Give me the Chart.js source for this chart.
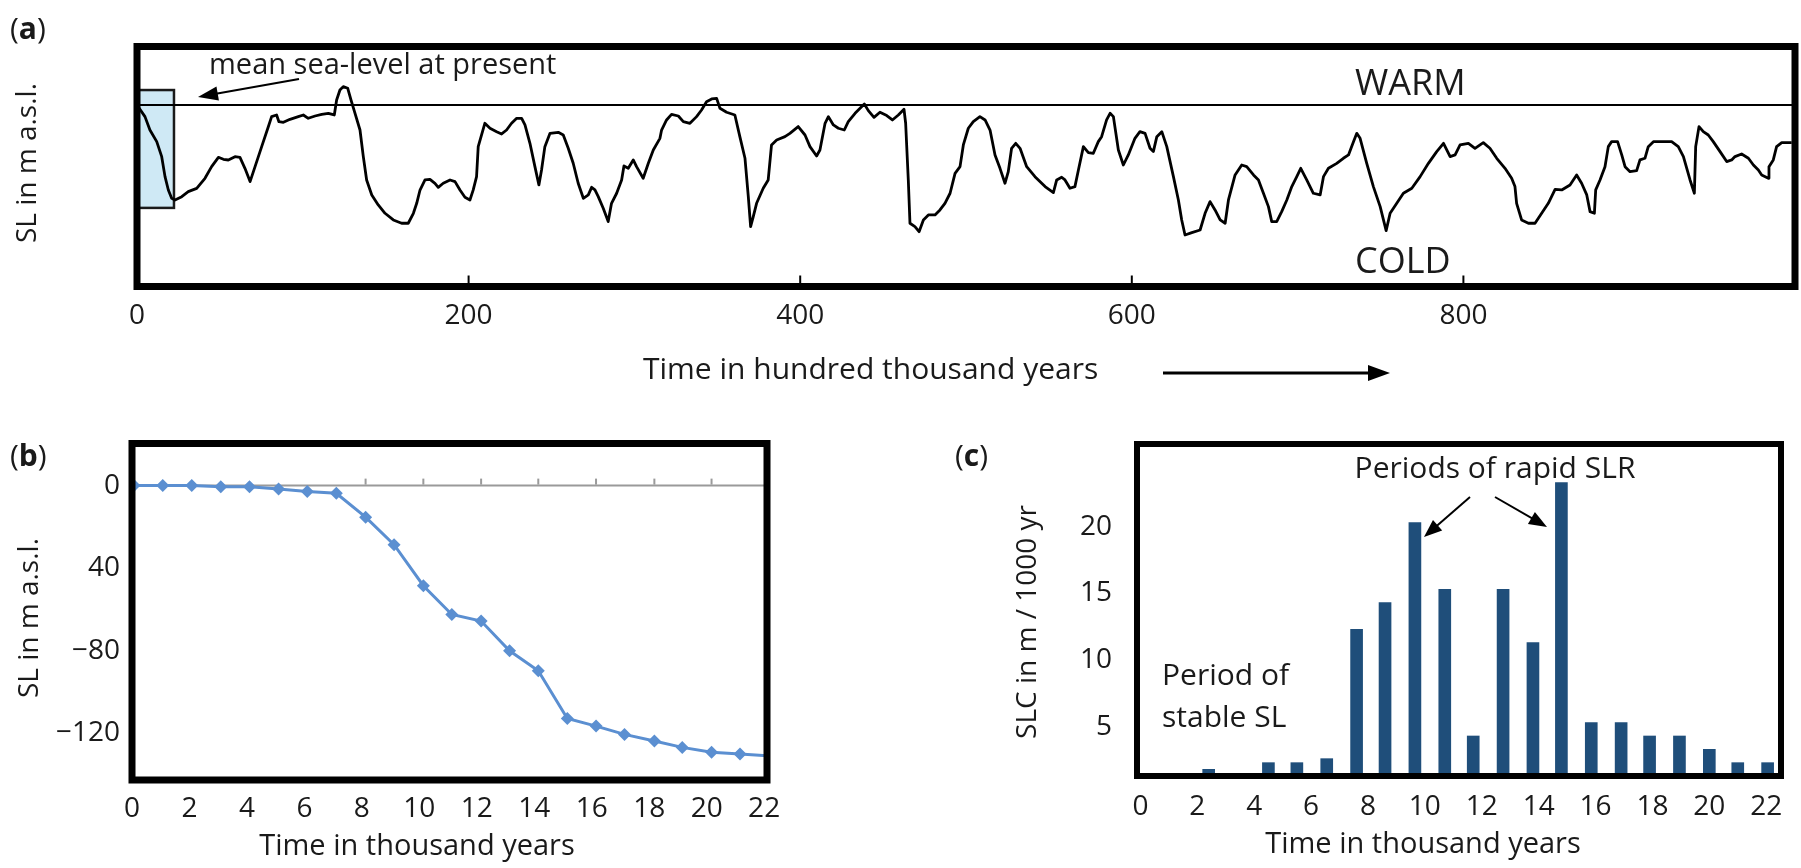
<!DOCTYPE html>
<html>
<head>
<meta charset="utf-8">
<title>Sea-level change</title>
<script src="https://cdn.jsdelivr.net/npm/chart.js@4.4.1/dist/chart.umd.min.js"></script>
<style>
  html, body { margin: 0; padding: 0; background: #fff; }
  body { width: 1801px; height: 868px; position: relative; overflow: hidden; }
  canvas { position: absolute; }
  #chartA { left: 0; top: 0; }
  #chartB { left: 0; top: 420px; }
  #chartC { left: 900px; top: 420px; }
</style>
</head>
<body>
<canvas id="chartA" width="1801" height="420"></canvas>
<canvas id="chartB" width="900" height="448"></canvas>
<canvas id="chartC" width="901" height="448"></canvas>
<script>
// (a) sea level over the last ~1000 kyr (m relative to present)
const paleoTime = [
  0, 4.8, 7.8, 11.9, 14.9, 16.9, 18.9, 20.9, 22.9, 27.0, 30.9, 36.0, 41.0, 45.0, 49.1, 52.1, 55.1, 59.1, 62.1, 65.1,
  68.2, 71.2, 75.2, 79.2, 81.2, 84.2, 85.6, 88.3, 92.3, 97.3, 100.3, 103.3, 107.4, 111.4, 115.4, 119.0, 120.4, 122.4,
  124.4, 127.1, 129.1, 131.5, 134.5, 136.5, 138.5, 141.6, 145.5, 149.6, 154.6, 159.6, 163.6, 166.7, 168.7, 170.7,
  173.7, 176.7, 179.7, 181.7, 184.7, 188.8, 191.8, 194.8, 197.8,
  200.8, 202.8, 204.8, 205.8, 209.8, 212.9, 216.9, 219.9, 222.9, 225.9, 229.0, 232.0, 234.0, 237.0, 240.0, 242.4,
  244.0, 246.0, 249.1, 254.1, 257.1, 260.1, 263.1, 266.1, 269.2, 272.2, 274.2, 276.2, 278.2, 281.2, 284.2, 286.2,
  289.3, 292.3, 293.7, 296.3, 299.3, 301.3, 305.3, 308.4, 311.4, 315.4, 316.4, 319.4, 322.4, 326.5, 329.5, 333.5,
  337.5, 340.5, 343.5, 346.6, 349.6, 351.6, 355.6, 360.6, 363.6, 366.7, 368.7, 370.1, 371.7, 373.7, 377.7, 380.7,
  382.7, 385.8, 390.8, 393.8, 398.8,
  402.9, 405.9, 409.9, 411.9, 415.0, 417.0, 420.0, 423.0, 426.6, 429.0, 433.1, 436.1, 438.7, 441.1, 444.5, 448.1,
  452.2, 455.6, 459.2, 462.6, 463.6, 465.2, 466.2, 469.2, 471.7, 474.3, 477.3, 481.3, 484.3, 487.3, 490.4, 493.4,
  496.4, 498.4, 501.4, 504.4, 508.4, 511.5, 514.5, 517.5, 520.5, 523.5, 525.5, 527.5, 530.0, 532.6, 536.6, 541.6,
  547.7, 552.7, 554.7, 557.7, 559.7, 562.7, 565.7, 567.8, 570.8, 573.8, 576.8, 579.8, 581.8, 584.8, 586.9, 588.9,
  591.9, 594.9, 597.9, 601.9, 604.9,
  608.0, 611.0, 613.0, 615.1, 618.1, 621.1, 625.1, 628.1, 630.1, 632.1, 636.2, 641.2, 644.2, 647.2, 650.2, 653.3,
  656.3, 658.3, 662.3, 666.3, 669.3, 673.4, 676.4, 679.4, 682.4, 684.4, 687.4, 690.4, 693.5, 696.5, 699.5, 701.9,
  705.5, 709.5, 713.6, 715.6, 718.6, 723.6, 727.6, 730.7, 733.7, 735.7, 737.7, 741.7, 745.7, 749.8, 753.4, 755.8,
  759.8, 763.8, 768.9, 773.9, 778.9, 783.9, 788.0, 792.0, 795.0, 798.0, 803.0,
  807.0, 812.0, 816.0, 820.1, 825.1, 829.1, 831.1, 832.1, 835.1, 839.2, 843.2, 847.2, 851.2, 855.3, 859.3, 864.3,
  868.3, 871.3, 874.4, 876.4, 879.0, 879.8, 882.4, 885.4, 887.4, 889.4, 893.0, 895.5, 897.5, 900.5, 904.5, 906.5,
  909.5, 911.5, 914.6, 925.6, 929.6, 932.7, 936.7, 939.3, 940.1, 942.1, 944.7, 947.7, 950.7, 954.8, 958.8, 961.8,
  963.8, 967.8, 971.9, 974.9, 977.9, 979.9, 983.9, 984.3, 986.9, 988.9, 992.0, 998.0
];
const paleoLevel = [
  0, -14.7, -31.6, -46.3, -65.3, -90.5, -107.4, -117.9, -120, -115.8, -109.5, -105.3, -92.6, -77.9, -66.1, -68.6,
  -69.5, -65.3, -66.1, -80.0, -96.8, -77.9, -52.6, -27.4, -14.7, -12.6, -21.1, -21.9, -18.1, -14.7, -12.6, -16.8,
  -13.9, -11.8, -10.5, -12.6, 6.3, 18.9, 23.2, 21.1, 6.3, -10.5, -31.6, -65.3, -94.7, -113.7, -126.3, -136.8,
  -145.2, -149.4, -149.4, -136.8, -124.2, -107.4, -94.7, -93.9, -98.9, -104.0, -98.9, -94.7, -96.8, -107.4, -116.6,
  -120.0, -107.3, -90.5, -52.6, -23.1, -29.4, -33.7, -36.6, -31.6, -23.1, -16.8, -16.8, -25.2, -48.4, -77.9, -101.0,
  -82.1, -52.6, -35.8, -34.5, -37.9, -54.7, -73.6, -98.9, -117.9, -113.6, -104.0, -107.3, -115.8, -130.5, -147.3,
  -124.2, -111.5, -94.7, -77.0, -80.0, -69.4, -77.9, -92.6, -73.6, -56.8, -42.1, -31.6, -18.9, -11.8, -13.9, -21.0,
  -23.1, -14.7, -6.3, 4.2, 7.6, 8.4, -4.2, -9.2, -12.6, -40.0, -67.3, -115.8, -153.6, -141.0, -124.2, -105.2, -94.7,
  -50.5, -44.2, -40.0, -35.8, -27.3,
  -37.9, -52.6, -64.4, -56.8, -23.1, -14.7, -25.2, -29.4, -31.6, -21.0, -10.5, -4.2, 1.3, -7.1, -15.6, -9.2, -13.4,
  -18.9, -12.6, -5.4, -23.1, -94.7, -149.4, -153.6, -160.0, -145.2, -138.9, -138.9, -132.6, -124.2, -111.5, -86.3,
  -77.9, -50.5, -29.4, -21.0, -14.7, -18.9, -31.6, -63.1, -80.0, -98.9, -84.2, -54.7, -48.4, -54.7, -77.9, -90.5,
  -103.1, -110.7, -94.7, -91.3, -94.7, -105.2, -103.1, -82.1, -52.6, -60.2, -61.0, -46.3, -40.0, -18.9, -10.5,
  -14.7, -56.8, -75.8, -63.1, -42.1, -33.7,
  -35.8, -54.7, -58.9, -40.0, -33.7, -52.6, -90.5, -120.0, -145.2, -164.2, -161.2, -157.9, -136.8, -122.1, -132.6,
  -145.2, -149.4, -120.0, -88.4, -75.8, -77.9, -88.4, -94.7, -111.5, -128.4, -147.3, -147.3, -134.7, -120.0, -103.1,
  -90.5, -80.0, -94.7, -111.5, -113.6, -90.5, -80.0, -73.7, -67.3, -63.1, -46.3, -35.8, -42.1, -73.7, -103.1,
  -128.4, -158.7, -136.8, -124.2, -111.5, -105.2, -90.5, -73.7, -58.9, -48.4, -65.2, -63.1, -50.5, -48.4,
  -54.7, -47.5, -54.7, -67.3, -80.0, -92.6, -103.1, -124.2, -145.2, -149.4, -149.4, -136.8, -124.2, -106.5, -107.3,
  -101.0, -88.4, -98.9, -113.6, -134.7, -136.8, -107.3, -94.7, -77.9, -52.6, -46.3, -46.3, -63.1, -77.9, -84.2,
  -82.9, -69.4, -67.3, -52.6, -46.3, -46.3, -52.6, -65.2, -94.7, -111.5, -52.6, -27.3, -33.7, -37.9, -46.3, -58.9,
  -71.5, -69.4, -65.2, -61.9, -67.3, -75.8, -82.1, -88.4, -92.6, -77.9, -69.4, -52.6, -47.5, -47.5
];
// highlighted last 22 kyr (blue box in panel a)
const recentWindow = { from: 0, to: 22.3, top: 18.9, bottom: -130 };

// (b) sea level over the last 22 kyr
const holoTime = [0.07, 1.07, 2.08, 3.09, 4.09, 5.1, 6.1, 7.11, 8.13, 9.12, 10.14, 11.13, 12.15, 13.14, 14.14,
  15.15, 16.15, 17.14, 18.18, 19.15, 20.17, 21.16, 22.18];
const holoLevel = [0, 0, 0, -0.5, -0.5, -1.6, -2.9, -3.7, -15.3, -28.6, -48.5, -62.4, -65.6, -80, -89.7,
  -112.8, -116.5, -120.5, -123.7, -126.8, -129.2, -130, -130.9];
const levelTickValues = [0, -40, -80, -120];
const levelTickLabels = ['0', '40', '\u221280', '\u2212120'];

// (c) rate of sea-level change per 1000 years
const rateTime = [0.35, 1.4, 2.4, 3.45, 4.5, 5.5, 6.55, 7.6, 8.6, 9.65, 10.7, 11.7, 12.75, 13.8, 14.8, 15.85,
  16.9, 17.9, 18.95, 20.0, 21.0, 22.05];
const rateValue = [0, 0, 1.5, 0, 2, 2, 2.3, 12, 14, 20, 15, 4, 15, 11, 23, 5, 5, 4, 4, 3, 2, 2];
const rateTicks = [5, 10, 15, 20];

const FONT = "'Open Sans', 'DejaVu Sans', sans-serif";
const INK = '#1a1a1a';
const LINE_BLUE = '#5b8fd1';
const BAR_BLUE = '#1f4e7a';

function font(size, weight) {
  return (weight || 'normal') + ' ' + size + 'px ' + FONT;
}

function text(ctx, str, x, y, size, opts) {
  opts = opts || {};
  ctx.save();
  ctx.font = font(size, opts.weight);
  ctx.fillStyle = INK;
  ctx.textAlign = opts.align || 'left';
  ctx.textBaseline = opts.baseline || 'alphabetic';
  if (opts.rotate) {
    ctx.translate(x, y);
    ctx.rotate(opts.rotate);
    ctx.fillText(str, 0, 0);
  } else {
    ctx.fillText(str, x, y);
  }
  ctx.restore();
}

function panelLabel(ctx, letter, x, y) {
  ctx.save();
  ctx.fillStyle = INK;
  ctx.textBaseline = 'middle';
  ctx.font = font(30);
  ctx.fillText('(', x, y);
  let w = ctx.measureText('(').width;
  ctx.font = font(30, 'bold');
  ctx.fillText(letter, x + w, y);
  w += ctx.measureText(letter).width;
  ctx.font = font(30);
  ctx.fillText(')', x + w, y);
  ctx.restore();
}

function arrow(ctx, x1, y1, x2, y2, width, head, half) {
  const a = Math.atan2(y2 - y1, x2 - x1);
  const c = Math.cos(a), s = Math.sin(a);
  ctx.save();
  ctx.strokeStyle = '#000';
  ctx.fillStyle = '#000';
  ctx.lineWidth = width;
  ctx.beginPath();
  ctx.moveTo(x1, y1);
  ctx.lineTo(x2 - head * 0.7 * c, y2 - head * 0.7 * s);
  ctx.stroke();
  ctx.beginPath();
  ctx.moveTo(x2, y2);
  ctx.lineTo(x2 - head * c + half * s, y2 - head * s - half * c);
  ctx.lineTo(x2 - head * c - half * s, y2 - head * s + half * c);
  ctx.closePath();
  ctx.fill();
  ctx.restore();
}

// thick black frame round the plot area
const framePlugin = {
  id: 'frame',
  afterDraw(chart, args, opts) {
    const { ctx, chartArea: a } = chart;
    ctx.save();
    ctx.lineWidth = opts.width || 7;
    ctx.strokeStyle = '#000';
    ctx.strokeRect(a.left, a.top, a.right - a.left, a.bottom - a.top);
    ctx.restore();
  }
};

// grid hidden, but tickLength still spaces the labels from the frame
function hiddenGrid(gap) {
  return { display: false, drawTicks: true, tickLength: gap || 0, offset: false };
}

// Panel (a)
const annotA = {
  id: 'annotA',
  beforeDatasetsDraw(chart) {
    const { ctx, scales: { x, y } } = chart;
    const l = x.getPixelForValue(recentWindow.from), r = x.getPixelForValue(recentWindow.to);
    const t = y.getPixelForValue(recentWindow.top), b = y.getPixelForValue(recentWindow.bottom);
    ctx.save();
    ctx.fillStyle = '#cfe9f5';
    ctx.fillRect(l, t, r - l, b - t);
    ctx.lineWidth = 2.5;
    ctx.strokeStyle = '#1a1a1a';
    ctx.strokeRect(l, t, r - l, b - t);
    ctx.restore();
  },
  afterDraw(chart) {
    const { ctx, chartArea: a, scales: { x } } = chart;
    ctx.save();
    ctx.strokeStyle = '#000';
    ctx.lineWidth = 2;
    x.ticks.forEach(tk => {
      if (tk.value <= 0 || tk.value >= 1000) return;
      const px = x.getPixelForValue(tk.value);
      ctx.beginPath();
      ctx.moveTo(px, a.bottom - 2);
      ctx.lineTo(px, a.bottom - 11);
      ctx.stroke();
    });
    ctx.restore();

    panelLabel(ctx, 'a', 10, 30);
    text(ctx, 'mean sea-level at present', 209, 74, 29);
    arrow(ctx, 299, 79, 198, 97, 2, 20, 7);
    text(ctx, 'WARM', 1355, 95, 36);
    text(ctx, 'COLD', 1355, 273, 36);
    text(ctx, 'SL in m a.s.l.', 28, 163, 28, { align: 'center', baseline: 'middle', rotate: -Math.PI / 2 });
    text(ctx, 'Time in hundred thousand years', 643, 370, 30, { baseline: 'middle' });
    arrow(ctx, 1163, 373, 1390, 373, 3, 22, 8);
  }
};

new Chart(document.getElementById('chartA'), {
  type: 'line',
  data: {
    datasets: [
      {
        data: paleoTime.map((t, i) => ({ x: t, y: paleoLevel[i] })),
        borderColor: '#000',
        borderWidth: 2.8,
        pointRadius: 0,
        tension: 0,
        borderJoinStyle: 'round'
      },
      {
        data: [{ x: 0, y: 0 }, { x: 1000, y: 0 }],
        borderColor: '#000',
        borderWidth: 2,
        pointRadius: 0
      }
    ]
  },
  options: {
    responsive: false,
    animation: false,
    layout: { padding: { top: 46.5, right: 6, left: 0, bottom: 0 } },
    plugins: { legend: { display: false }, tooltip: { enabled: false }, frame: { width: 7 } },
    scales: {
      x: {
        type: 'linear', min: 0, max: 1000,
        afterFit: s => { s.height = 133.5; },
        grid: hiddenGrid(13), border: { display: false },
        ticks: {
          stepSize: 200, padding: 0, maxRotation: 0, color: INK,
          font: { family: FONT, size: 28 },
          callback: v => (v < 1000 ? String(v) : '')
        }
      },
      y: {
        min: -229.3, max: 73.9,
        afterFit: s => { s.width = 137; },
        grid: hiddenGrid(), border: { display: false },
        ticks: { display: false, padding: 0 }
      }
    }
  },
  plugins: [annotA, framePlugin]
});

// Panel (b)
const annotB = {
  id: 'annotB',
  afterDraw(chart) {
    const { ctx, scales: { x, y } } = chart;
    const y0 = y.getPixelForValue(0);
    ctx.save();
    ctx.strokeStyle = '#9a9a9a';
    ctx.lineWidth = 2;
    holoTime.forEach((t, i) => {
      if (i % 2 !== 0 || i < 8 || i > 20) return;
      const px = x.getPixelForValue(t);
      ctx.beginPath();
      ctx.moveTo(px, y0 - 1);
      ctx.lineTo(px, y0 - 7);
      ctx.stroke();
    });
    ctx.restore();
    panelLabel(ctx, 'b', 10, 37);
    text(ctx, 'SL in m a.s.l.', 30, 198, 28, { align: 'center', baseline: 'middle', rotate: -Math.PI / 2 });
    text(ctx, 'Time in thousand years', 417, 427, 29, { align: 'center', baseline: 'middle' });
  }
};

new Chart(document.getElementById('chartB'), {
  type: 'line',
  data: {
    datasets: [
      {
        data: holoTime.map((t, i) => ({ x: t, y: holoLevel[i] })),
        borderColor: LINE_BLUE,
        backgroundColor: LINE_BLUE,
        borderWidth: 3,
        pointStyle: 'rectRot',
        pointRadius: 6.5,
        pointBorderWidth: 0,
        tension: 0
      },
      {
        data: [{ x: 0, y: 0 }, { x: 22.1, y: 0 }],
        borderColor: '#9a9a9a',
        borderWidth: 2,
        pointRadius: 0
      }
    ]
  },
  options: {
    responsive: false,
    animation: false,
    layout: { padding: { top: 23.5, right: 133, left: 0, bottom: 0 } },
    plugins: { legend: { display: false }, tooltip: { enabled: false }, frame: { width: 7 } },
    scales: {
      x: {
        type: 'linear', min: 0, max: 22.1,
        afterFit: s => { s.height = 88; },
        grid: hiddenGrid(12), border: { display: false },
        ticks: {
          stepSize: 2, includeBounds: false, padding: 0, maxRotation: 0, color: INK,
          font: { family: FONT, size: 28 }
        }
      },
      y: {
        min: -142.6, max: 20.4,
        afterFit: s => { s.width = 132; },
        grid: hiddenGrid(12), border: { display: false },
        ticks: {
          stepSize: 40, includeBounds: false, padding: 0, color: INK,
          font: { family: FONT, size: 28 },
          callback: v => {
            const k = levelTickValues.indexOf(v);
            return k >= 0 ? levelTickLabels[k] : '';
          }
        }
      }
    }
  },
  plugins: [annotB, framePlugin]
});

// Panel (c)
const annotC = {
  id: 'annotC',
  afterDraw(chart) {
    const { ctx } = chart;
    panelLabel(ctx, 'c', 55, 37);
    text(ctx, 'SLC in m / 1000 yr', 128, 202, 28, { align: 'center', baseline: 'middle', rotate: -Math.PI / 2 });
    text(ctx, 'Time in thousand years', 523, 425, 29, { align: 'center', baseline: 'middle' });
    text(ctx, 'Periods of rapid SLR', 595, 58, 30, { align: 'center' });
    arrow(ctx, 570, 77, 524, 117, 2, 18, 7);
    arrow(ctx, 595, 77, 647, 107, 2, 18, 7);
    text(ctx, 'Period of', 262, 265, 30);
    text(ctx, 'stable SL', 262, 307, 30);
  }
};

new Chart(document.getElementById('chartC'), {
  type: 'bar',
  data: {
    datasets: [{
      data: rateTime.map((t, i) => ({ x: t, y: rateValue[i] })),
      backgroundColor: BAR_BLUE,
      barThickness: 12,
      clip: 0
    }]
  },
  options: {
    responsive: false,
    animation: false,
    layout: { padding: { top: 24, right: 20, left: 0, bottom: 0 } },
    plugins: { legend: { display: false }, tooltip: { enabled: false }, frame: { width: 6 } },
    scales: {
      x: {
        type: 'linear', min: -0.12, max: 22.52, offset: false,
        afterFit: s => { s.height = 92; },
        grid: hiddenGrid(14), border: { display: false },
        ticks: {
          stepSize: 2, includeBounds: false, padding: 0, maxRotation: 0, color: INK,
          font: { family: FONT, size: 28 }
        }
      },
      y: {
        min: 1.0, max: 25.9,
        afterFit: s => { s.width = 237; },
        afterBuildTicks: s => { s.ticks = rateTicks.map(v => ({ value: v })); },
        grid: hiddenGrid(25), border: { display: false },
        ticks: {
          padding: 0, labelOffset: 4, color: INK,
          font: { family: FONT, size: 28 }
        }
      }
    }
  },
  plugins: [annotC, framePlugin]
});
</script>
</body>
</html>
